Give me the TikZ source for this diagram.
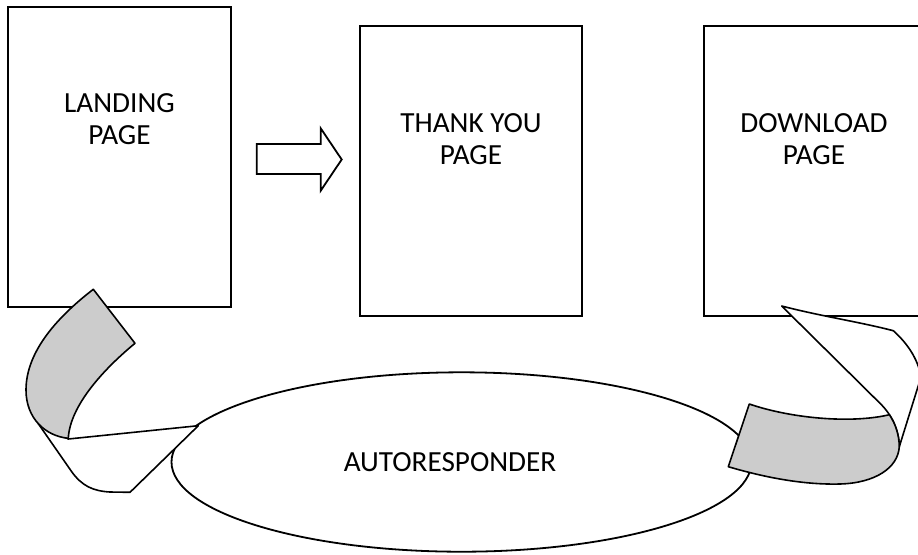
\documentclass[tikz,border=0pt]{standalone}
\usepackage{fontspec}
\setmainfont{Carlito}
\usetikzlibrary{shapes.geometric}
\definecolor{ribbongray}{RGB}{204,204,204}

\tikzset{
  pagebox/.style={draw, line width=0.9pt, fill=white, inner sep=0pt, minimum width=111pt, minimum height=145pt},
  pagetext/.style={align=center, font=\fontsize{14.6}{16}\selectfont},
  ribbon/.style={draw, line width=0.8pt, line join=round},
}

\begin{document}
\begin{tikzpicture}[x=0.5pt, y=-0.5pt]
        \useasboundingbox (0,0) rectangle (918,554);
        \clip (0,0) rectangle (918,554);

        % Pages
        \node[pagebox, minimum width=111.5pt, minimum height=150pt] (landing) at (119.5,157) {};
        \node[pagebox] (thanks) at (471,171) {};
        \node[pagebox] (download) at (815,171) {};

        % Mail loop
        \node[draw, ellipse, line width=0.9pt, inner sep=0pt, minimum width=290pt, minimum height=89.7pt] (autoresp) at (461.5,462) {};

        % Block arrow
        \draw[line width=0.9pt, line join=miter] (256.7,144) -- (320.7,144) -- (320.7,128.3) -- (341.7,159.5)
            -- (320.7,190.7) -- (320.7,174) -- (256.7,174) -- cycle;

        % Left twist
        \draw[ribbon, fill=white] (38.4,423.8) -- (71.7,471.7) .. controls (82,486) and (93,491) .. (110,492)
            -- (130,492.3) -- (198.3,425.7) -- (68.3,439) -- cycle;
        \draw[ribbon, fill=ribbongray] (93.3,289.3) -- (135,343.3) .. controls (105,368) and (70,405) .. (68.3,438.3)
            .. controls (45,436) and (26,418) .. (26,390) .. controls (26,350) and (60,315) .. (93.3,289.3) -- cycle;

        % Right twist
        \draw[ribbon, fill=white] (781.7,306) .. controls (820,316) and (860,322) .. (893.3,330.7)
            .. controls (906,342) and (918,358) .. (921,377) -- (899.3,446.7)
            .. controls (899,430) and (892,415) .. (880,403.3) -- cycle;
        \draw[ribbon, fill=ribbongray] (749.3,404) .. controls (790,418) and (850,424) .. (889.4,414.7)
            .. controls (895.7,424.2) and (899.1,435) .. (899.3,446.7)
            .. controls (898,468) and (875,483) .. (840,484) .. controls (800,485) and (760,476) .. (728.3,466.7) -- cycle;

        % Labels
        \node[pagetext] (landingtext) at (119.5,119) {LANDING\\PAGE};
        \node[pagetext] (thankstext) at (471,139) {THANK YOU\\PAGE};
        \node[pagetext] (downloadtext) at (814,139) {DOWNLOAD\\PAGE};
        \node[pagetext] (autotext) at (450,461.7) {AUTORESPONDER};

\end{tikzpicture}
\end{document}
